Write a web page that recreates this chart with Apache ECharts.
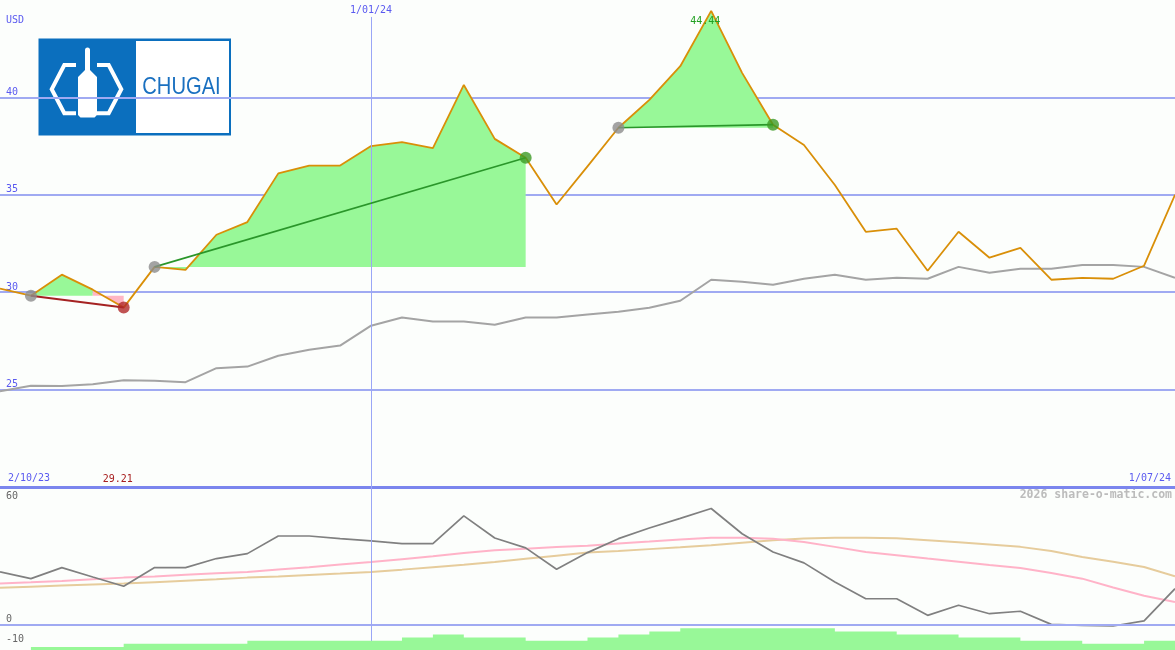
<!DOCTYPE html>
<html><head><meta charset="utf-8">
<script src="https://cdn.jsdelivr.net/npm/echarts@6/dist/echarts.min.js"></script>
<style>html,body{margin:0;padding:0;background:#fcfefc;}#c{width:1175px;height:650px;}</style>
</head><body><div id="c"></div>
<script>
// ---- data (weekly points, index 0 = 2/10/23) ----
const price = [30.18, 29.82, 30.9, 30.13, 29.21, 31.3, 31.15, 32.95, 33.6, 36.1, 36.5, 36.5, 37.5, 37.7, 37.4, 40.64, 37.87, 36.9, 34.5, 36.46, 38.44, 39.87, 41.6, 44.44, 41.26, 38.6, 37.56, 35.5, 33.1, 33.26, 31.1, 33.1, 31.77, 32.28, 30.64, 30.74, 30.69, 31.36, 35.0];
const bench = [24.91, 25.2, 25.18, 25.28, 25.48, 25.46, 25.38, 26.1, 26.18, 26.74, 27.05, 27.26, 28.28, 28.7, 28.5, 28.5, 28.33, 28.7, 28.7, 28.85, 29.0, 29.2, 29.56, 30.64, 30.54, 30.38, 30.69, 30.9, 30.64, 30.74, 30.69, 31.3, 31.0, 31.2, 31.2, 31.4, 31.4, 31.3, 30.74];
const osc = [25.6, 22.3, 27.7, 23.1, 18.6, 27.7, 27.7, 32.1, 34.5, 43.1, 43.1, 41.8, 40.7, 39.4, 39.4, 52.9, 42.1, 37.3, 26.9, 35.0, 41.8, 47.0, 51.7, 56.5, 44.2, 35.3, 30.0, 20.7, 12.5, 12.5, 4.4, 9.3, 5.2, 6.4, 0, -0.5, -0.8, 1.7, 17.4];
const maFast = [19.9, 20.5, 21.2, 22.0, 22.8, 23.4, 24.2, 24.9, 25.6, 26.8, 27.9, 29.2, 30.4, 31.8, 33.2, 34.8, 36.1, 36.9, 37.7, 38.4, 39.5, 40.4, 41.4, 42.3, 42.3, 41.8, 40.2, 37.8, 35.3, 33.7, 32.1, 30.6, 29.0, 27.5, 25.1, 22.3, 18.0, 14.0, 10.9];
const maSlow = [17.9, 18.4, 18.9, 19.4, 19.9, 20.6, 21.3, 22.0, 22.8, 23.4, 24.1, 24.8, 25.6, 26.7, 27.9, 29.1, 30.4, 32.0, 33.5, 35.0, 35.8, 36.7, 37.6, 38.6, 39.8, 41.0, 41.9, 42.3, 42.3, 42.0, 41.0, 40.0, 39.0, 37.8, 35.8, 32.9, 30.5, 28.0, 23.5];
// volume level for each week j (covers j .. j+1)
const volume = [null,1,1,1,2,2,2,2,3,3,3,3,3,4,5,4,4,3,3,4,5,6,7,7,7,7,7,6,6,5,5,4,4,3,3,2,2,3];
const priceTicks = [25, 30, 35, 40];
const oscTicks = [60, 0, -10];
const dateLabels = ['2/10/23', '1/01/24', '1/07/24'];
const dateIdx = [0, 12, 38];
const tradeStarts = [1, 5, 20];
const tradeEnds = [4, 17, 25];
// fill pieces: [fromIndex, toIndex, tradeNo, kind]
const fills = [[1, 3, 0, 'gain'], [3, 4, 0, 'loss'], [5, 17, 1, 'gain'], [20, 25, 2, 'gain']];

const BLUE = '#5a5af0', GRID = '#a0aaf2', FONT = 'DejaVu Sans Mono';
const pts = arr => arr.map((v, i) => [i, v]);

const series = [];
fills.forEach(f => {
  const d = [];
  for (let i = f[0]; i <= f[1]; i++) d.push([i, price[i]]);
  series.push({
    type: 'line', xAxisIndex: 0, yAxisIndex: 0, data: d, symbol: 'none', silent: true, z: 1,
    lineStyle: { width: 0 },
    areaStyle: { color: f[3] === 'gain' ? '#98f898' : '#ffb6c4', opacity: 1, origin: price[tradeStarts[f[2]]] }
  });
});
series.push({ type: 'line', xAxisIndex: 0, yAxisIndex: 0, data: pts(bench), symbol: 'none', z: 3,
  lineStyle: { color: '#a4a4a4', width: 2 } });
const maxIdx = price.indexOf(Math.max(...price));
const lossIdx = tradeEnds[0];
series.push({ type: 'line', xAxisIndex: 0, yAxisIndex: 0, data: pts(price), symbol: 'none', z: 4,
  lineStyle: { color: '#d98f08', width: 1.8 },
  markLine: { silent: true, symbol: ['none', 'none'], animation: false,
    lineStyle: { color: '#9aa6f6', width: 1, type: 'solid' },
    label: { show: true, position: 'start', distance: 2, formatter: dateLabels[1], color: BLUE, fontFamily: FONT, fontSize: 10 },
    data: [[{ coord: [dateIdx[1], 44.13] }, { coord: [dateIdx[1], 20] }]] },
  markPoint: { silent: true, symbolSize: 0, animation: false,
    data: [
      { coord: [maxIdx, 43.92], value: price[maxIdx],
        label: { show: true, position: 'inside', offset: [-6, 0], color: '#22a022', fontFamily: FONT, fontSize: 10, formatter: p => p.value.toFixed(2) } },
      { coord: [lossIdx, 20.41], value: price[lossIdx],
        label: { show: true, position: 'inside', offset: [-6, 0], color: '#a82020', fontFamily: FONT, fontSize: 10, formatter: p => p.value.toFixed(2) } }
    ] }
});
tradeStarts.forEach((s, k) => {
  const e = tradeEnds[k];
  const loss = price[e] < price[s];
  series.push({ type: 'line', xAxisIndex: 0, yAxisIndex: 0, data: [[s, price[s]], [e, price[e]]], symbol: 'none', z: 5,
    lineStyle: { color: loss ? '#a52222' : '#2a962a', width: loss ? 2 : 1.6 } });
});
series.push({ type: 'scatter', xAxisIndex: 0, yAxisIndex: 0, z: 6, symbolSize: 12,
  itemStyle: { color: '#8c8c8c' }, data: tradeStarts.map(i => [i, price[i]]) });
series.push({ type: 'scatter', xAxisIndex: 0, yAxisIndex: 0, z: 6, symbolSize: 12,
  data: tradeEnds.map((i, k) => ({ value: [i, price[i]], itemStyle: { color: price[i] < price[tradeStarts[k]] ? '#b02828' : '#3c9a24' } })) });
// lower panel
series.push({ type: 'line', xAxisIndex: 1, yAxisIndex: 1, data: pts(maSlow), symbol: 'none', z: 3,
  lineStyle: { color: '#e6cc9c', width: 2 } });
series.push({ type: 'line', xAxisIndex: 1, yAxisIndex: 1, data: pts(maFast), symbol: 'none', z: 3,
  lineStyle: { color: '#ffb3c8', width: 2 } });
series.push({ type: 'line', xAxisIndex: 1, yAxisIndex: 1, data: pts(osc), symbol: 'none', z: 4,
  lineStyle: { color: '#808080', width: 1.7 },
  markLine: { silent: true, symbol: ['none', 'none'], animation: false, label: { show: false },
    data: [ { yAxis: 0, lineStyle: { color: GRID, width: 2, type: 'solid' } },
            { xAxis: dateIdx[1], lineStyle: { color: '#9aa6f6', width: 1, type: 'solid' } } ] } });
// volume blocks as a stepped filled area (each week j spans j..j+1)
const volPts = [];
volume.forEach((v, j) => { if (v != null) volPts.push([j, v]); });
volPts.push([volume.length, volume[volume.length - 1]]);
series.push({ type: 'line', xAxisIndex: 2, yAxisIndex: 2, data: volPts, step: 'end', symbol: 'none', z: 5,
  lineStyle: { width: 0 }, areaStyle: { color: '#98f898', opacity: 1, origin: 'start' } });

const lbl = { fontFamily: FONT, fontSize: 10 };
const option = {
  animation: false,
  backgroundColor: '#fcfefc',
  grid: [
    { left: 0, right: 0, top: 0, height: 487 },
    { left: 0, right: 0, top: 487, bottom: 0 },
    { left: 0, right: 0, top: 600, bottom: 0 }
  ],
  xAxis: [
    { gridIndex: 0, type: 'value', min: 0, max: 38, axisLine: { show: true, onZero: false, lineStyle: { color: '#7b86ee', width: 3 } },
      axisTick: { show: false }, axisLabel: { show: false }, splitLine: { show: false } },
    { gridIndex: 1, type: 'value', min: 0, max: 38, show: false },
    { gridIndex: 2, type: 'value', min: 0, max: 38, show: false }
  ],
  yAxis: [
    { gridIndex: 0, type: 'value', min: 20, max: 45, interval: 5,
      axisLine: { show: false }, axisTick: { show: false },
      splitLine: { show: true, showMinLine: false, showMaxLine: false, lineStyle: { color: GRID, width: 2 } },
      axisLabel: Object.assign({ inside: true, margin: 6, verticalAlign: 'bottom', color: BLUE,
        formatter: v => priceTicks.indexOf(v) >= 0 ? String(v) : '' }, lbl) },
    { gridIndex: 1, type: 'value', min: -12.5, max: 67,
      axisLine: { show: false }, axisTick: { show: false }, splitLine: { show: false },
      axisLabel: Object.assign({ inside: true, margin: 6, verticalAlign: 'bottom', color: '#666', customValues: oscTicks }, lbl) },
    { gridIndex: 2, type: 'value', min: 0, max: 16.13, show: false }
  ],
  graphic: [
    { type: 'text', left: 6, top: 15, style: { text: 'USD', fill: BLUE, font: '10px ' + FONT } },
    { type: 'text', left: 8, top: 473, style: { text: dateLabels[0], fill: BLUE, font: '10px ' + FONT } },
    { type: 'text', right: 4, top: 473, style: { text: dateLabels[2], fill: BLUE, font: '10px ' + FONT } },
    { type: 'text', right: 3, top: 489, style: { text: '2026 share-o-matic.com', fill: '#bcbcbc', font: 'bold 11.5px ' + FONT } },
    // logo
    { type: 'rect', shape: { x: 38.5, y: 38.5, width: 192.5, height: 97 }, style: { fill: '#0b6fbe' } },
    { type: 'rect', shape: { x: 136, y: 41, width: 93, height: 92 }, style: { fill: '#ffffff' } },
    { type: 'text', x: 181.5, y: 87.5, scaleX: 0.84,
      style: { x: 0, y: 0, text: 'CHUGAI', align: 'center', verticalAlign: 'middle', textAlign: 'center', textVerticalAlign: 'middle',
        font: '24px "Liberation Sans"', fill: '#1a70c0' } },
    { type: 'polyline', shape: { points: [[76, 65], [64.3, 65], [51.7, 89.3], [64.3, 113.3], [76, 113.3]] },
      style: { stroke: '#fff', lineWidth: 4, fill: null, lineJoin: 'miter' } },
    { type: 'polyline', shape: { points: [[97, 65], [108.7, 65], [121.3, 89.3], [108.7, 113.3], [97, 113.3]] },
      style: { stroke: '#fff', lineWidth: 4, fill: null, lineJoin: 'miter' } },
    { type: 'polygon', shape: { points: [[85, 50], [90, 50], [90, 70], [97, 77], [97, 115], [94.5, 117.5], [80.5, 117.5], [78, 115], [78, 77], [85, 70]] },
      style: { fill: '#fff' } },
    { type: 'circle', shape: { cx: 87.5, cy: 50, r: 2.5 }, style: { fill: '#fff' } }
  ],
  series: series
};
const chart = echarts.init(document.getElementById('c'));
chart.setOption(option);
</script></body></html>
